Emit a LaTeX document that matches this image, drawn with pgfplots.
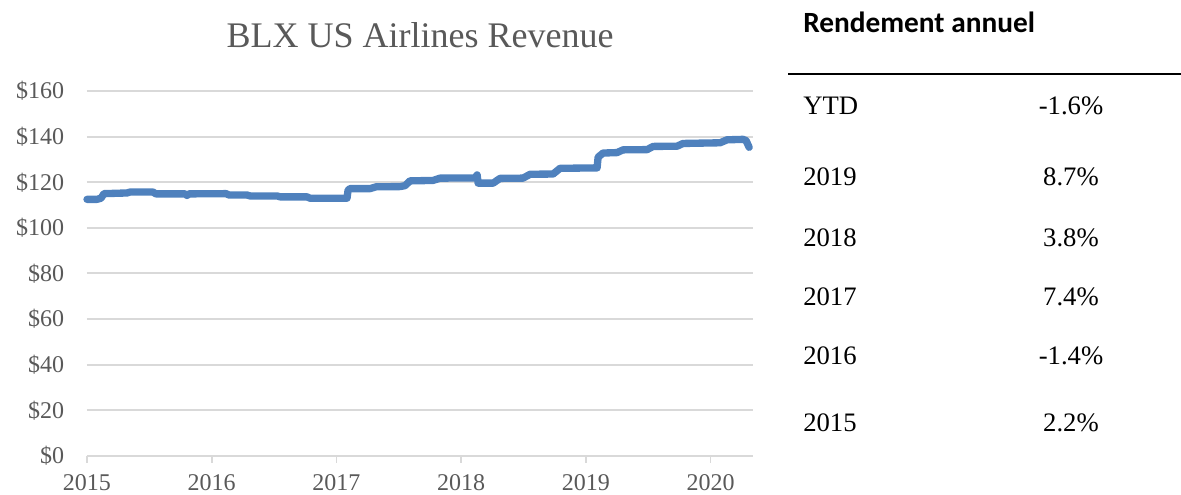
\documentclass[border=0pt]{standalone}
\usepackage{fontspec}
\setmainfont{Liberation Serif}
\newfontfamily\headfont{Carlito}
\usepackage{pgfplots}
\pgfplotsset{compat=1.18}
\definecolor{gridgray}{HTML}{D9D9D9}
\definecolor{txtgray}{HTML}{595959}
\definecolor{lineblue}{HTML}{4F81BD}
\begin{document}
\begin{tikzpicture}
\path[use as bounding box] (0pt,0pt) rectangle (885.75pt,371.25pt);
\begin{axis}[
  at={(65.25pt,29.25pt)}, anchor=south west,
  scale only axis, width=499.5pt, height=273.75pt,
  xmin=2015, xmax=2020.34, ymin=0, ymax=160,
  clip=false,
  axis line style={draw=none},
  axis x line*=bottom,
  axis y line*=left,
  ytick={0,20,...,160},
  xtick={2015,2016,...,2020},
  ymajorgrids, grid style={gridgray, line width=1.5pt},
  ytick style={draw=none},
  xtick style={gridgray, line width=1.2pt},
  xtick align=outside, major tick length=5pt,
  /pgf/number format/assume math mode=true,
  /pgf/number format/1000 sep={},
  yticklabel={\$\pgfmathprintnumber{\tick}},
  yticklabel style={font=\fontsize{18}{20}\selectfont, text=txtgray, anchor=east, inner sep=0pt, xshift=-17pt},
  xticklabel style={font=\fontsize{18}{20}\selectfont, text=txtgray, anchor=north, inner sep=0pt, yshift=-9pt},
  title={BLX US Airlines Revenue},
  title style={font=\fontsize{27}{30}\selectfont, text=txtgray, at={(0.5,1)}, anchor=base, yshift=26.5pt},
]
\draw[gridgray, line width=1.5pt] (axis cs:2015,0) -- (axis cs:2020.34,0);
\addplot[lineblue, line width=5.5pt, line join=round, line cap=round] table {
x y
2015.000 112.5
2015.080 112.5
2015.112 113.0
2015.136 115.0
2015.321 115.3
2015.345 115.7
2015.529 115.7
2015.553 114.9
2015.786 114.9
2015.802 114.2
2015.818 114.9
2016.115 115.0
2016.139 114.4
2016.283 114.4
2016.307 114.0
2016.524 114.0
2016.548 113.6
2016.764 113.6
2016.788 113.0
2017.085 113.0
2017.093 116.5
2017.109 117.2
2017.269 117.2
2017.318 118.0
2017.510 118.1
2017.550 118.5
2017.590 120.6
2017.775 120.8
2017.831 121.8
2018.111 121.9
2018.128 123.2
2018.136 119.6
2018.256 119.6
2018.312 121.7
2018.496 121.8
2018.553 123.5
2018.737 123.6
2018.793 126.1
2019.090 126.3
2019.098 131.0
2019.138 132.8
2019.250 133.0
2019.298 134.2
2019.491 134.3
2019.539 135.7
2019.731 135.8
2019.779 137.0
2020.076 137.3
2020.132 138.6
2020.261 138.8
2020.285 138.2
2020.309 135.3
};
\end{axis}
% table on the right
\node[anchor=base west, inner sep=0pt, font=\headfont\bfseries\fontsize{22}{26}\selectfont] at (602.25pt,347pt) {Rendement annuel};
\draw[black, line width=1.5pt] (591pt,315.75pt) -- (885.75pt,315.75pt);
\foreach \lab/\val/\by in {YTD/-1.6\%/115, 2019/8.7\%/186, 2018/3.8\%/246.5, 2017/7.4\%/306, 2016/-1.4\%/365, 2015/2.2\%/431.5}{
  \node[anchor=base west, inner sep=0pt, font=\fontsize{20}{24}\selectfont] at (602.25pt,{(495-\by)*0.75pt}) {\lab};
  \node[anchor=base, inner sep=0pt, font=\fontsize{20}{24}\selectfont] at (803.25pt,{(495-\by)*0.75pt}) {\val};
}
\end{tikzpicture}
\end{document}
